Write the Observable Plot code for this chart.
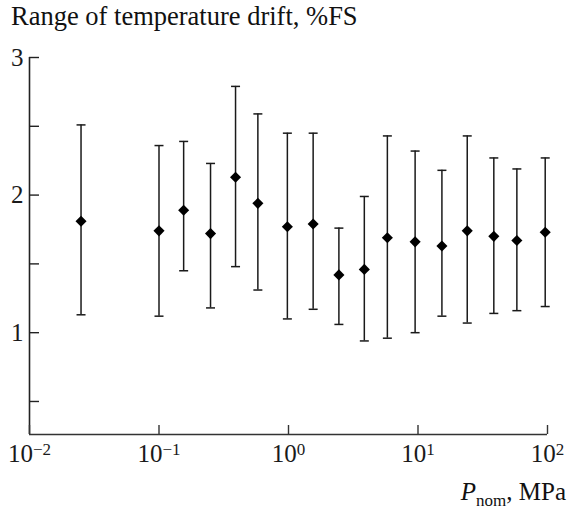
<!DOCTYPE html>
<html>
<head>
<meta charset="utf-8">
<script src="https://cdn.jsdelivr.net/npm/d3@7"></script>
<script src="https://cdn.jsdelivr.net/npm/@observablehq/plot@0.6"></script>
<style>
  html, body { margin: 0; padding: 0; background: #fff; }
  #wrap { position: relative; width: 569px; height: 514px; font-family: 'Liberation Serif', 'Tinos', 'Times New Roman', 'DejaVu Serif', serif; color: #111; }
  #title { position: absolute; left: 11px; top: 1px; font-size: 26.5px; white-space: nowrap; }
  #xlabel { position: absolute; right: 3px; top: 478px; font-size: 25px; white-space: nowrap; }
  #xlabel sub { font-size: 17px; vertical-align: -6px; }
  svg { position: absolute; left: 0; top: 0; }
</style>
</head>
<body>
<div id="wrap">
  <div id="title">Range of temperature drift, %FS</div>
  <div id="xlabel"><i>P</i><sub>nom</sub>, MPa</div>
</div>
<script>
// Nominal pressure, MPa
const pressure = [0.025, 0.1, 0.155, 0.25, 0.39, 0.58, 0.98, 1.55, 2.45, 3.85, 5.8, 9.5, 15.3, 24, 38.5, 58, 96];
// Mean range of temperature drift, %FS
const mean  = [1.81, 1.74, 1.89, 1.72, 2.13, 1.94, 1.77, 1.79, 1.42, 1.46, 1.69, 1.66, 1.63, 1.74, 1.70, 1.67, 1.73];
// Upper and lower limits
const upper = [2.51, 2.36, 2.39, 2.23, 2.79, 2.59, 2.45, 2.45, 1.76, 1.99, 2.43, 2.32, 2.18, 2.43, 2.27, 2.19, 2.27];
const lower = [1.13, 1.12, 1.45, 1.18, 1.48, 1.31, 1.10, 1.17, 1.06, 0.94, 0.96, 1.00, 1.12, 1.07, 1.14, 1.16, 1.19];
// Axis ticks
const xTicks = [0.01, 0.1, 1, 10, 100];
const yTicks = [0.5, 1, 1.5, 2, 2.5, 3];
const yLabels = [1, 2, 3];
const xDomain = [0.01, 100];
const yDomain = [0.26, 3];

const data = pressure.map((p, i) => ({p, mean: mean[i], hi: upper[i], lo: lower[i]}));

const capSymbol = {
  draw(ctx) { const r = 4.5; ctx.moveTo(-r, 0); ctx.lineTo(r, 0); }
};

const W = 569, H = 514;
const mL = 29, mR = 22, mT = 57, mB = 80;
const plotW = W - mL - mR, plotH = H - mT - mB;
const ink = "#1a1a1a";
const serif = "'Liberation Serif', 'Tinos', 'Times New Roman', 'DejaVu Serif', serif";

const chart = Plot.plot({
  width: W, height: H,
  marginLeft: mL, marginRight: mR, marginTop: mT, marginBottom: mB,
  style: {fontFamily: serif, fontSize: "25px", color: ink, background: "transparent"},
  x: {type: "log", domain: xDomain},
  y: {type: "linear", domain: yDomain},
  marks: [
    // axis lines
    Plot.ruleY([yDomain[0]], {stroke: "#333", strokeWidth: 1.6}),
    Plot.ruleX([xDomain[0]], {stroke: "#222", strokeWidth: 1.6}),
    // inward ticks
    Plot.tickY(yTicks, {y: d => d, stroke: "#222", strokeWidth: 1.4, insetRight: plotW - 10}),
    Plot.tickX(xTicks, {x: d => d, stroke: "#333", strokeWidth: 1.4, insetTop: plotH - 9}),
    // tick labels
    Plot.axisY(yLabels, {tickSize: 0, tickPadding: 6, fontSize: 25, label: null, tickFormat: d => String(d)}),
    Plot.axisX(xTicks, {tickSize: 0, tickPadding: 10, fontSize: 25, label: null,
      tickFormat: d => String(Math.round(Math.log10(d)))}),
    // error bars
    Plot.ruleX(data, {x: "p", y1: "lo", y2: "hi", stroke: ink, strokeWidth: 1.5}),
    Plot.dot(data, {x: "p", y: "hi", symbol: capSymbol, stroke: ink, strokeWidth: 1.5, fill: "none"}),
    Plot.dot(data, {x: "p", y: "lo", symbol: capSymbol, stroke: ink, strokeWidth: 1.5, fill: "none"}),
    // means
    Plot.dot(data, {x: "p", y: "mean", symbol: "diamond2", r: 5, fill: "#000", stroke: "none"})
  ]
});

// power-of-ten superscripts on x tick labels
d3.select(chart).selectAll('g[aria-label="x-axis tick label"] text').each(function() {
  const t = d3.select(this);
  const exp = t.text().replace("-", "\u2212");
  t.text("");
  t.append("tspan").text("10");
  t.append("tspan").attr("dy", "-0.42em").attr("font-size", "17px").text(exp);
});

document.getElementById("wrap").prepend(chart);
</script>
</body>
</html>
